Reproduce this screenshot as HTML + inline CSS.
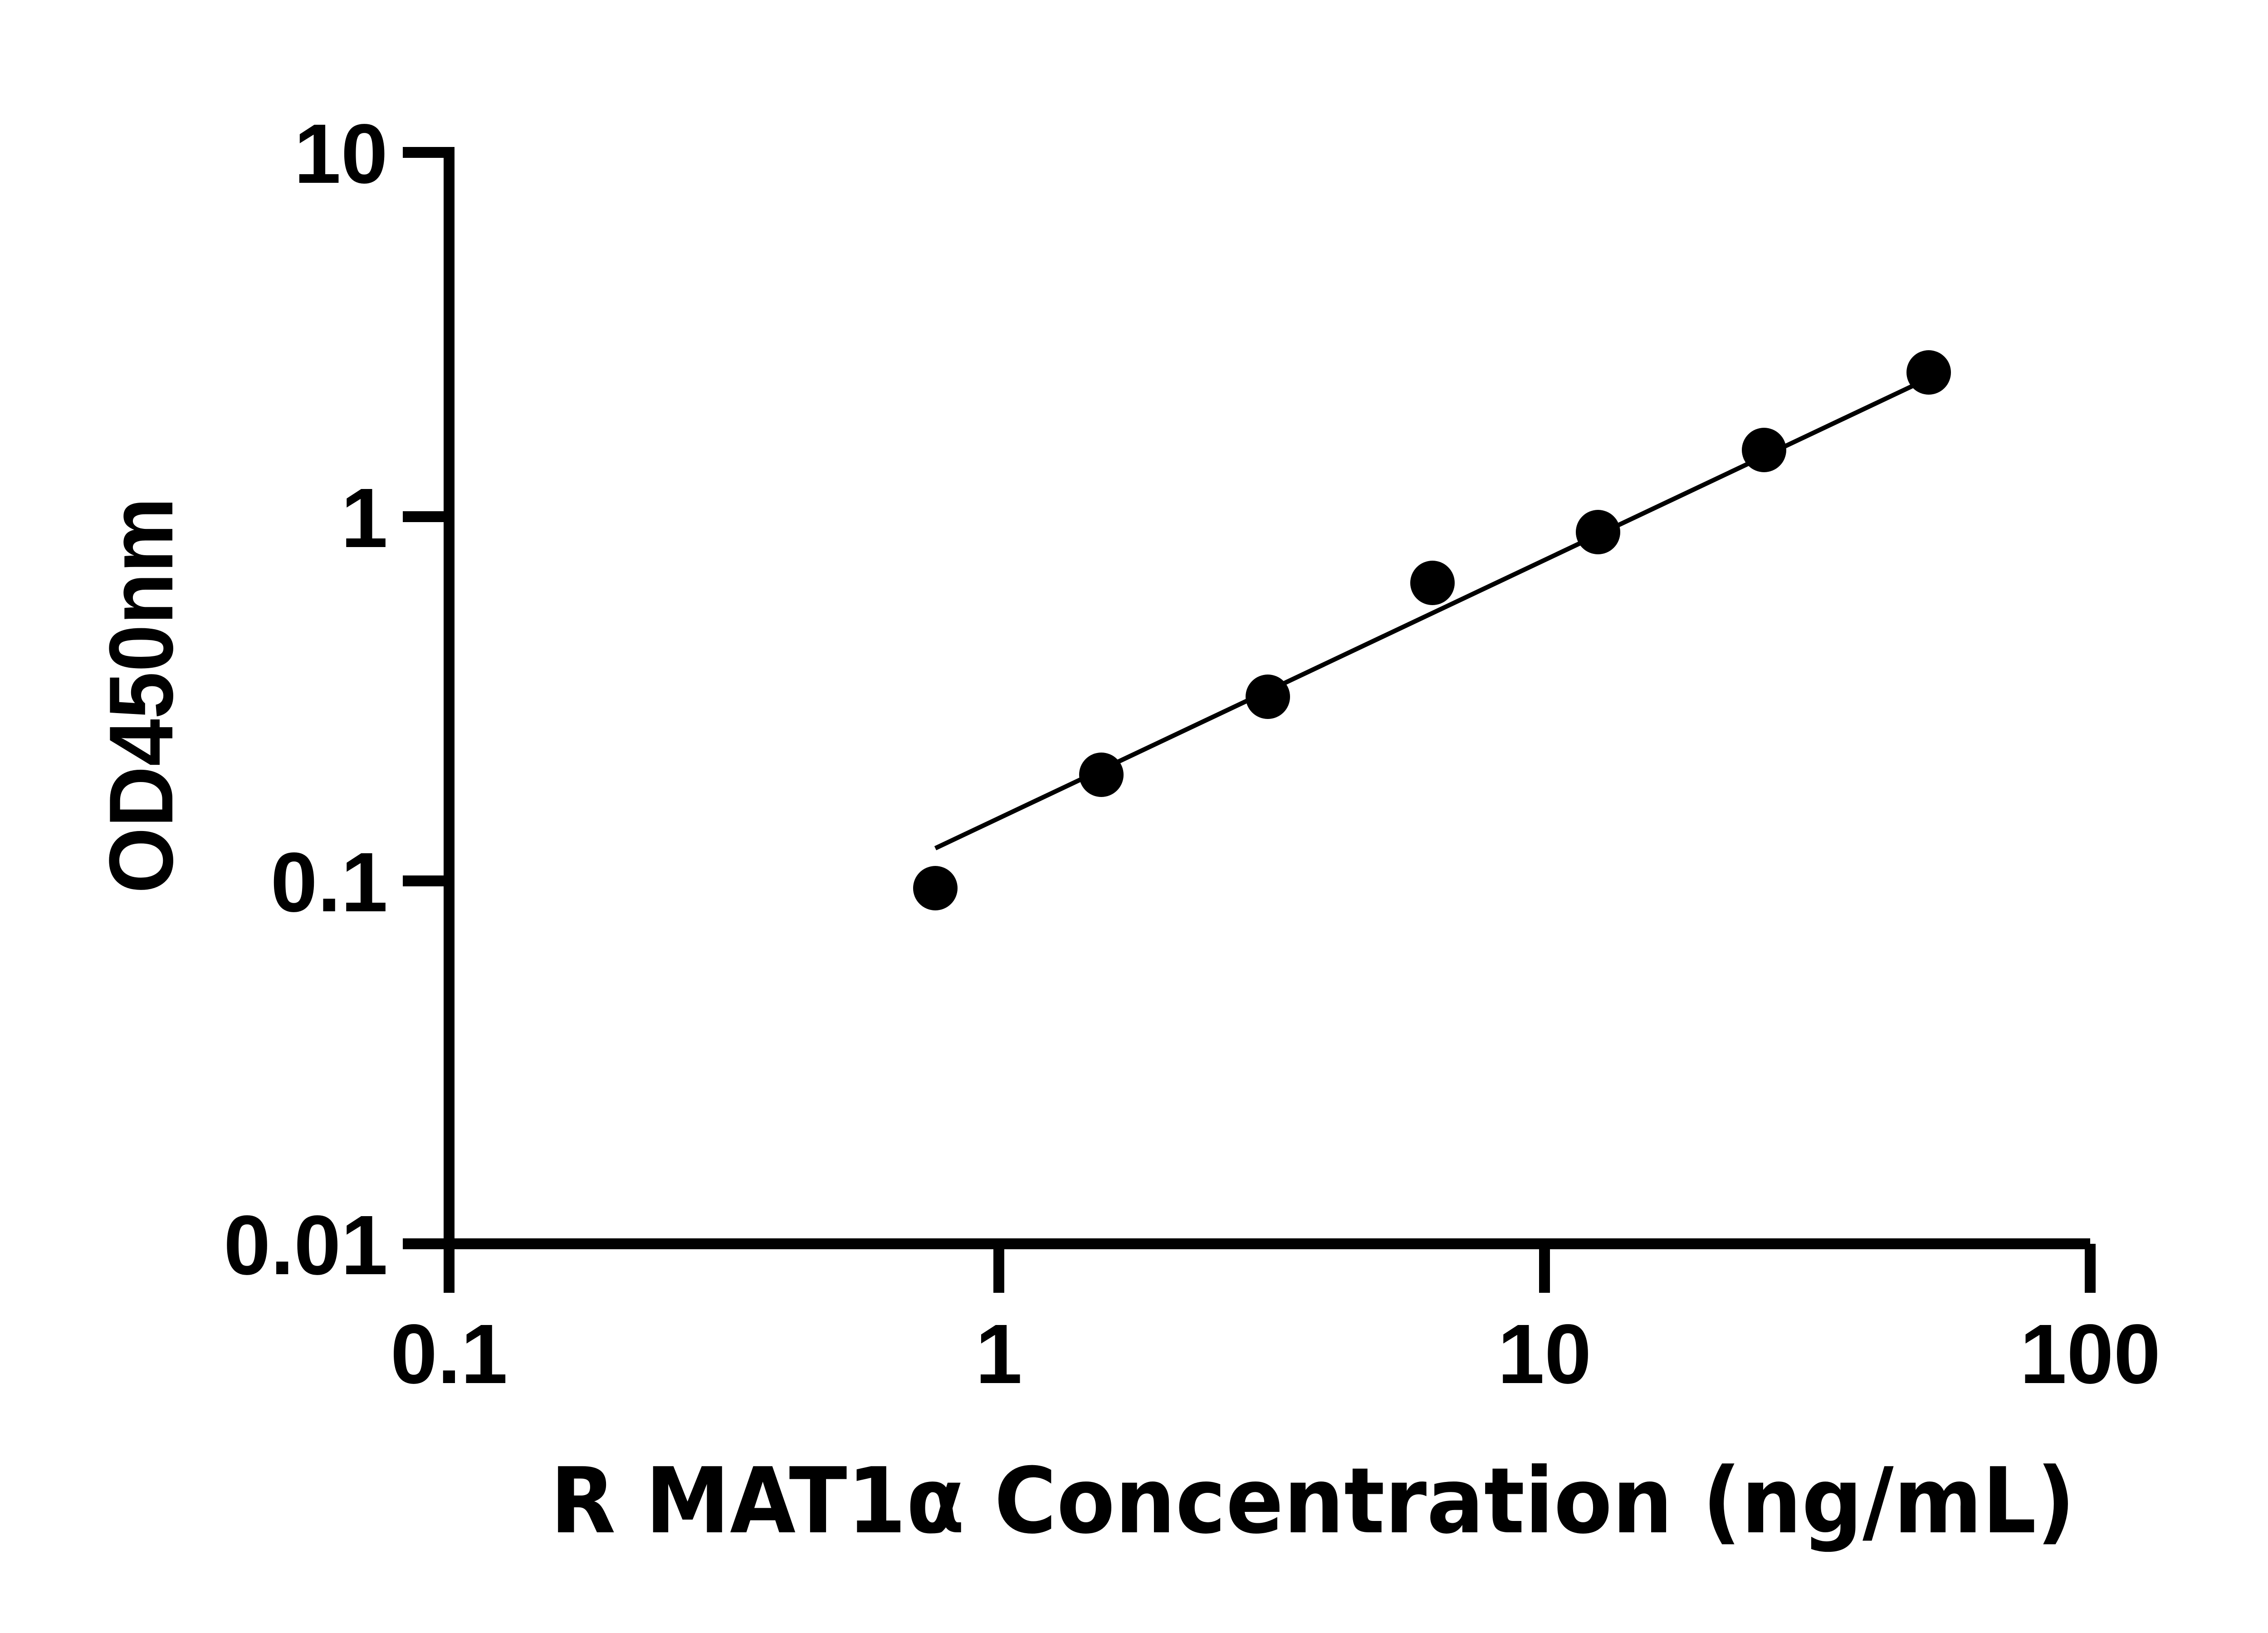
<!DOCTYPE html>
<html><head><meta charset="utf-8"><style>html,body{margin:0;padding:0;background:#fff}svg{display:block}</style></head>
<body>
<svg width="5142" height="3600" viewBox="0 0 5142 3600" xmlns="http://www.w3.org/2000/svg">
<rect width="5142" height="3600" fill="#fff"/>
<g stroke="#000" stroke-width="24" fill="none">
<line x1="990" y1="324" x2="990" y2="2850"/>
<line x1="978" y1="2742" x2="4608" y2="2742"/>
<line x1="888" y1="336" x2="1002" y2="336"/>
<line x1="888" y1="1139" x2="990" y2="1139"/>
<line x1="888" y1="1942" x2="990" y2="1942"/>
<line x1="888" y1="2742" x2="990" y2="2742"/>
<line x1="2202" y1="2742" x2="2202" y2="2850"/>
<line x1="3405" y1="2742" x2="3405" y2="2850"/>
<line x1="4608" y1="2742" x2="4608" y2="2850"/>
</g>
<line x1="2062" y1="1870" x2="4252" y2="834" stroke="#000" stroke-width="10"/>
<g fill="#000">
<circle cx="2062" cy="1958" r="49"/>
<circle cx="2428" cy="1708" r="49"/>
<circle cx="2795" cy="1536" r="49"/>
<circle cx="3158" cy="1285" r="49"/>
<circle cx="3523" cy="1173" r="49"/>
<circle cx="3889" cy="992" r="49"/>
<circle cx="4252" cy="821" r="49"/>
</g>
<g font-family="Liberation Sans, Arial, sans-serif" font-weight="bold" font-size="186" fill="#000">
<text x="855" y="403" text-anchor="end">10</text>
<text x="855" y="1206" text-anchor="end">1</text>
<text x="855" y="2009" text-anchor="end">0.1</text>
<text x="855" y="2809" text-anchor="end">0.01</text>
<text x="990" y="3049" text-anchor="middle">0.1</text>
<text x="2202" y="3049" text-anchor="middle">1</text>
<text x="3405" y="3049" text-anchor="middle">10</text>
<text x="4608" y="3049" text-anchor="middle">100</text>
<text transform="translate(380,1533) rotate(-90)" text-anchor="middle" font-size="200" textLength="873" lengthAdjust="spacingAndGlyphs">OD450nm</text>
<text x="1213" y="3378" font-size="200" font-family="DejaVu Sans, sans-serif" textLength="3362" lengthAdjust="spacingAndGlyphs">R MAT1α Concentration (ng/mL)</text>
</g>
</svg>
</body></html>
